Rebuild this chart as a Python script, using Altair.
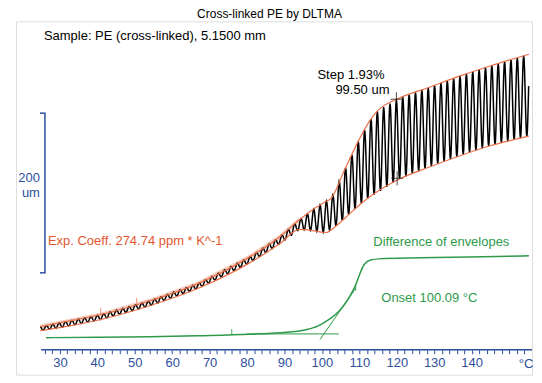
import altair as alt
import numpy as np
import pandas as pd

# ---------------- data ----------------
# Upper envelope of the DLTMA signal (temperature °C, length um)
up_T = [24.7, 30.0, 40.7, 54.0, 67.3, 80.7, 88.7, 94.0, 98.0, 100.7, 102.5, 106.0, 110.0, 113.2, 115.0, 120.7, 128.7, 136.7, 144.7, 155.3]
up_u = [60.0, 65.0, 75.0, 92.5, 115.0, 147.5, 172.5, 194.0, 208.0, 216.0, 221.0, 256.0, 295.0, 321.0, 331.0, 346.3, 360.0, 373.8, 386.3, 401.3]
# Lower envelope
lo_T = [24.7, 30.0, 40.7, 54.0, 67.3, 80.7, 88.7, 94.0, 98.0, 101.0, 104.0, 107.3, 111.3, 120.7, 128.7, 136.7, 144.7, 155.3]
lo_u = [55.0, 58.8, 68.8, 86.3, 108.8, 140.0, 163.8, 182.0, 180.0, 178.0, 187.0, 201.0, 217.5, 245.0, 260.0, 273.8, 286.3, 298.8]
# oscillation period of the modulated force (°C)
osc_period = 1.7

# Difference of envelopes (green)
df_T = [26.3, 40.7, 54.0, 67.3, 80.7, 88.7, 92.7, 96.0, 99.0, 101.5, 104.7, 108.7, 111.3, 113.2, 115.3, 126.0, 139.3, 155.3]
df_u = [46.3, 46.9, 47.5, 48.8, 50.6, 52.5, 54.0, 56.5, 61.0, 68.0, 80.0, 109.0, 138.0, 143.8, 145.0, 146.3, 147.5, 148.8]

# onset tangents (green)
tan_h_T = [80.0, 104.5]
tan_h_u = [51.0, 51.0]
tan_s_T = [99.5, 109.0]
tan_s_u = [44.0, 108.0]

# evaluation markers
exp_mark_T = [40.9, 50.5]
exp_mark_u = [80.0, 92.5]
diff_mark_T = [75.9, 109.0]
diff_mark_u = [53.5, 109.0]
step_mark_T = [119.9, 120.1]
step_mark_u = [345.0, 246.0]

# axis
tick_values = list(range(26, 156, 2))
scale_bar_um = [127.5, 327.5]

# ---------------- styles ----------------
BLUE = "#2d4f9e"
ORANGE = "#e9714a"
ORANGE_TXT = "#e4572e"
GREEN = "#2e9a4a"
FONT = "Liberation Sans"

X_DOMAIN = [18.27, 156.13]
Y_DOMAIN = [0, 442.5]

def xenc(field="T"):
    return alt.X(
        f"{field}:Q",
        scale=alt.Scale(domain=X_DOMAIN, nice=False, zero=False),
        axis=alt.Axis(
            values=tick_values,
            labelExpr="datum.value % 10 == 0 && datum.value <= 140 ? datum.value : ''",
            offset=-25, domain=False, grid=False, title=None,
            tickColor=BLUE, tickSize=4, tickWidth=1,
            labelColor=BLUE, labelFont=FONT, labelFontSize=13,
            labelPadding=3, labelFlush=False, labelOverlap=False,
        ),
    )

def yenc(field="u"):
    return alt.Y(f"{field}:Q", scale=alt.Scale(domain=Y_DOMAIN, nice=False, zero=False), axis=None)

# ---------------- build series ----------------
up = pd.DataFrame({"T": up_T, "u": up_u})
lo = pd.DataFrame({"T": lo_T, "u": lo_u})

# black modulated signal swings between the read envelopes
Ts = np.arange(up_T[0], up_T[-1], osc_period / 14.0)
uu = np.interp(Ts, up_T, up_u)
ll = np.interp(Ts, lo_T, lo_u)
mid = (uu + ll) / 2
amp = (uu - ll) / 2
phase = 2 * np.pi * (Ts - up_T[0]) / osc_period
sig = mid + amp * np.cos(phase)
osc = pd.DataFrame({"T": Ts, "u": sig, "o": np.arange(len(Ts))})

diff = pd.DataFrame({"T": df_T, "u": df_u})

env_up = alt.Chart(up).mark_line(color=ORANGE, strokeWidth=1.2, interpolate="monotone").encode(x=xenc(), y=yenc())
env_lo = alt.Chart(lo).mark_line(color=ORANGE, strokeWidth=1.2, interpolate="monotone").encode(x=xenc(), y=yenc())
band = alt.Chart(up).mark_line(color="#f2b39c", strokeWidth=4, opacity=0.6).encode(x=xenc(), y=yenc()).transform_filter("datum.T < 95")

sig_line = alt.Chart(osc).mark_line(color="black", strokeWidth=1.5).encode(x=xenc(), y=yenc(), order="o:Q")

diff_line = alt.Chart(diff).mark_line(color=GREEN, strokeWidth=1.5, interpolate="monotone").encode(x=xenc(), y=yenc())
tan_h = alt.Chart(pd.DataFrame({"T": tan_h_T, "u": tan_h_u})).mark_line(color=GREEN, strokeWidth=1).encode(x=xenc(), y=yenc())
tan_s = alt.Chart(pd.DataFrame({"T": tan_s_T, "u": tan_s_u})).mark_line(color=GREEN, strokeWidth=1).encode(x=xenc(), y=yenc())

exp_marks = alt.Chart(pd.DataFrame({"T": exp_mark_T, "u": exp_mark_u})).mark_tick(color=ORANGE, size=6, thickness=1, orient="vertical").encode(x=xenc(), y=yenc())
diff_marks = alt.Chart(pd.DataFrame({"T": diff_mark_T, "u": diff_mark_u})).mark_tick(color=GREEN, size=6, thickness=1.2, orient="vertical").encode(x=xenc(), y=yenc())
step_v = alt.Chart(pd.DataFrame({"T": step_mark_T, "u": step_mark_u})).mark_tick(color="black", size=14, thickness=1, orient="vertical").encode(x=xenc(), y=yenc())
step_h = alt.Chart(pd.DataFrame({"T": step_mark_T, "u": step_mark_u})).mark_tick(color="black", size=12, thickness=1, orient="horizontal").encode(x=xenc(), y=yenc())

# x axis base line
axis_line = alt.Chart(pd.DataFrame({"T": [25.0], "T2": [X_DOMAIN[1]]})).mark_rule(color=BLUE, strokeWidth=1.5).encode(
    x=xenc(), x2="T2:Q", y=alt.value(329))

# 200 um scale bar
sb = pd.DataFrame({"u": [scale_bar_um[0]], "u2": [scale_bar_um[1]]})
sb_v = alt.Chart(sb).mark_rule(color=BLUE, strokeWidth=1.5).encode(x=alt.value(29), y=yenc(), y2="u2:Q")
sb_ends = pd.DataFrame({"u": scale_bar_um})
sb_h = alt.Chart(sb_ends).mark_rule(color=BLUE, strokeWidth=1.5).encode(x=alt.value(24), x2=alt.value(29.7), y=yenc())

def label(txt, x, y, color="black", size=13, align="left"):
    return alt.Chart(pd.DataFrame({"t": [txt]})).mark_text(
        align=align, baseline="middle", font=FONT, fontSize=size, color=color
    ).encode(text="t:N", x=alt.value(x), y=alt.value(y))

texts = [
    label("Cross-linked PE by DLTMA", 254, -7, size=12, align="center"),
    label("Sample: PE (cross-linked), 5.1500 mm", 28, 15),
    label("Step 1.93%", 302, 54),
    label("99.50 um", 320, 69),
    label("200", 24, 157, color=BLUE, align="right"),
    label("um", 24, 172, color=BLUE, align="right"),
    label("Exp. Coeff. 274.74 ppm * K^-1", 32, 220, color=ORANGE_TXT),
    label("Difference of envelopes", 358, 221, color=GREEN),
    label("Onset 100.09 °C", 366, 277, color=GREEN),
    label("°C", 511, 343, color=BLUE, align="center"),
]

chart = alt.layer(
    band, sig_line, env_up, env_lo, exp_marks, step_v, step_h,
    diff_line, tan_h, tan_s, diff_marks,
    axis_line, sb_v, sb_h, *texts
).properties(
    width=517, height=354,
    autosize=alt.AutoSizeParams(type="none"),
    padding={"left": 8, "top": 13, "right": 2, "bottom": 2},
).configure_view(stroke="#3a3a3a", strokeWidth=1.2).configure(background="white")

chart.save("out.html", embed_options={"renderer": "svg", "actions": False})
